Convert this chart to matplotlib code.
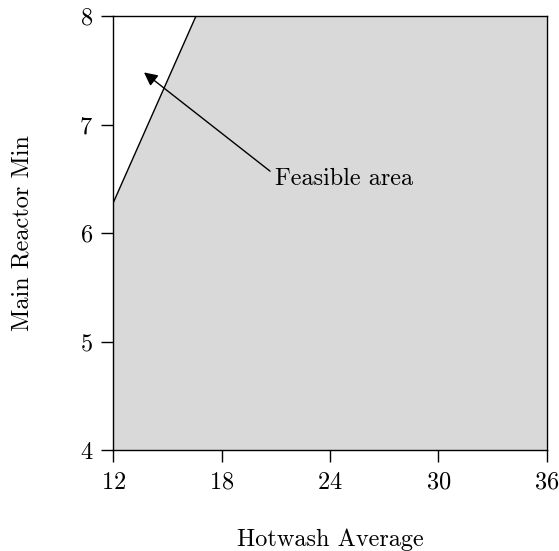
import matplotlib
matplotlib.use("Agg")
import matplotlib.pyplot as plt

plt.rcParams["font.family"] = "cmr10"
plt.rcParams["axes.formatter.use_mathtext"] = True

# data
x_lim = [12, 36]
y_lim = [4, 8]
x_ticks = [12, 18, 24, 30, 36]
y_ticks = [4, 5, 6, 7, 8]
# boundary line of the constraint
boundary_x = [12, 16.58]
boundary_y = [6.28, 8]
# shaded (infeasible) polygon
shade_x = [12, 12, 16.58, 36, 36]
shade_y = [4, 6.28, 8, 8, 4]
arrow_tip = (13.7, 7.48)
arrow_tail = (20.68, 6.57)
label_pos = (20.95, 6.44)

fs = 17.5

fig = plt.figure(figsize=(5.59, 5.51), dpi=100)
ax = fig.add_axes([113.3 / 559, 1 - 450 / 551, 433.4 / 559, 434 / 551])

ax.fill(shade_x, shade_y, color="#d9d9d9", lw=0)
ax.plot(boundary_x, boundary_y, color="black", lw=1)

ax.annotate("", xy=arrow_tip, xytext=arrow_tail,
            arrowprops=dict(arrowstyle="-|>", mutation_scale=20, lw=1,
                            color="black", shrinkA=0, shrinkB=0))
ax.text(label_pos[0], label_pos[1], "Feasible area", fontsize=fs,
        ha="left", va="baseline")

ax.set_xlim(x_lim)
ax.set_ylim(y_lim)
ax.set_xticks(x_ticks)
ax.set_yticks(y_ticks)
ax.tick_params(direction="out", length=8.5, width=1, labelsize=fs, pad=6)
ax.tick_params(axis="x", pad=7)
for s in ax.spines.values():
    s.set_linewidth(1)

ax.set_xlabel("Hotwash Average", fontsize=fs, labelpad=25)
ax.set_ylabel("Main Reactor Min", fontsize=fs, labelpad=33)

fig.savefig("out.png", dpi=100)
